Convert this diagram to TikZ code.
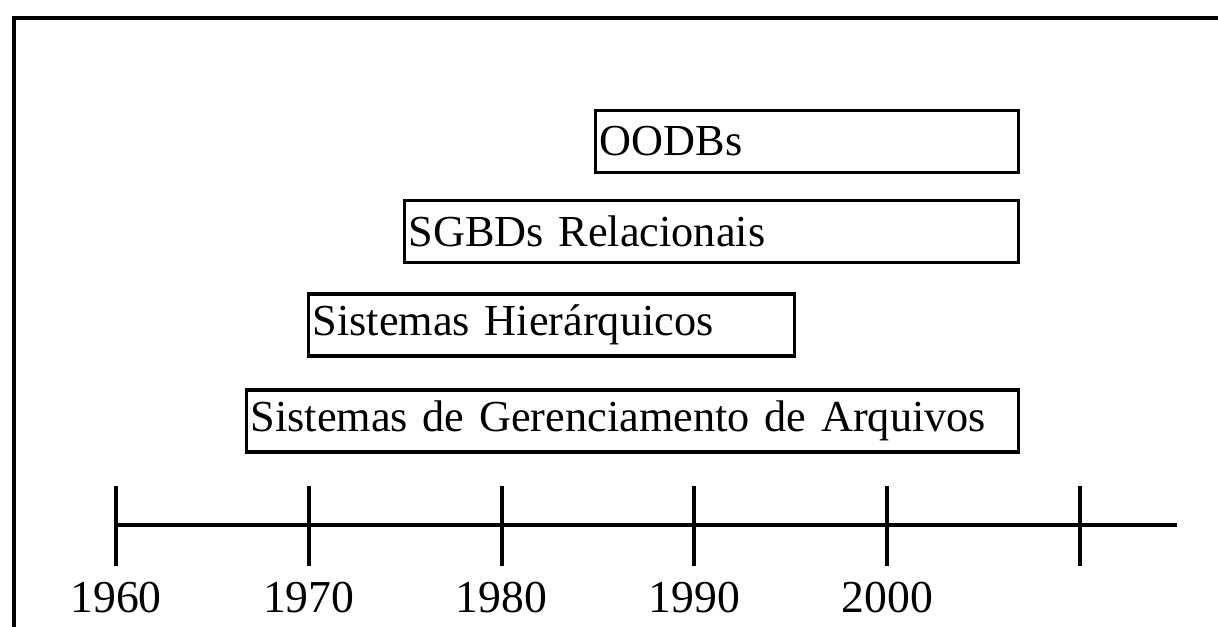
\documentclass[tikz,border=0pt]{standalone}
\usepackage{fontspec}
\setmainfont{Liberation Serif}
\usepackage{tikz}

\begin{document}
\begin{tikzpicture}[
  periodo/.style={draw, line width=0.9pt, anchor=west, minimum height=0.62cm,
    inner xsep=0.04cm, inner ysep=0pt, align=left, font=\fontsize{12.6}{15}\selectfont},
  moldura/.style={line width=1.3pt},
  eixo/.style={line width=1.1pt},
  ano/.style={font=\fontsize{13}{15}\selectfont}]
\useasboundingbox (0,0) rectangle (12.18,6.27);

% moldura (parte de cima e lado esquerdo)
\draw[moldura] (12.18,6.09) -- (0.14,6.09) -- (0.14,0);

% periodos
\node[periodo, text width=4.15cm] (oodb) at (5.94,4.855) {OODBs};
\node[periodo, text width=6.06cm] (relac) at (4.03,3.955) {SGBDs Relacionais};
\node[periodo, text width=4.78cm] (hier) at (3.07,3.02) {Sistemas Hierárquicos};
\node[periodo, text width=7.64cm] (arq) at (2.45,2.06) {Sistemas de Gerenciamento de Arquivos};

% eixo do tempo
\coordinate (eixo-ini) at (1.16,1.02);
\coordinate (eixo-fim) at (11.77,1.02);
\draw[eixo] (eixo-ini) -- (eixo-fim);
\foreach \i in {0,...,5} {
  \coordinate (tc\i) at ({1.16+1.928*\i},1.41);
  \coordinate (tb\i) at ({1.16+1.928*\i},0.61);
  \draw[eixo] (tc\i) -- (tb\i);
}
\foreach \i/\a in {0/1960, 1/1970, 2/1980, 3/1990, 4/2000}
  \node[ano] (ano\i) at ({1.16+1.928*\i},0.29) {\a};
\end{tikzpicture}
\end{document}
